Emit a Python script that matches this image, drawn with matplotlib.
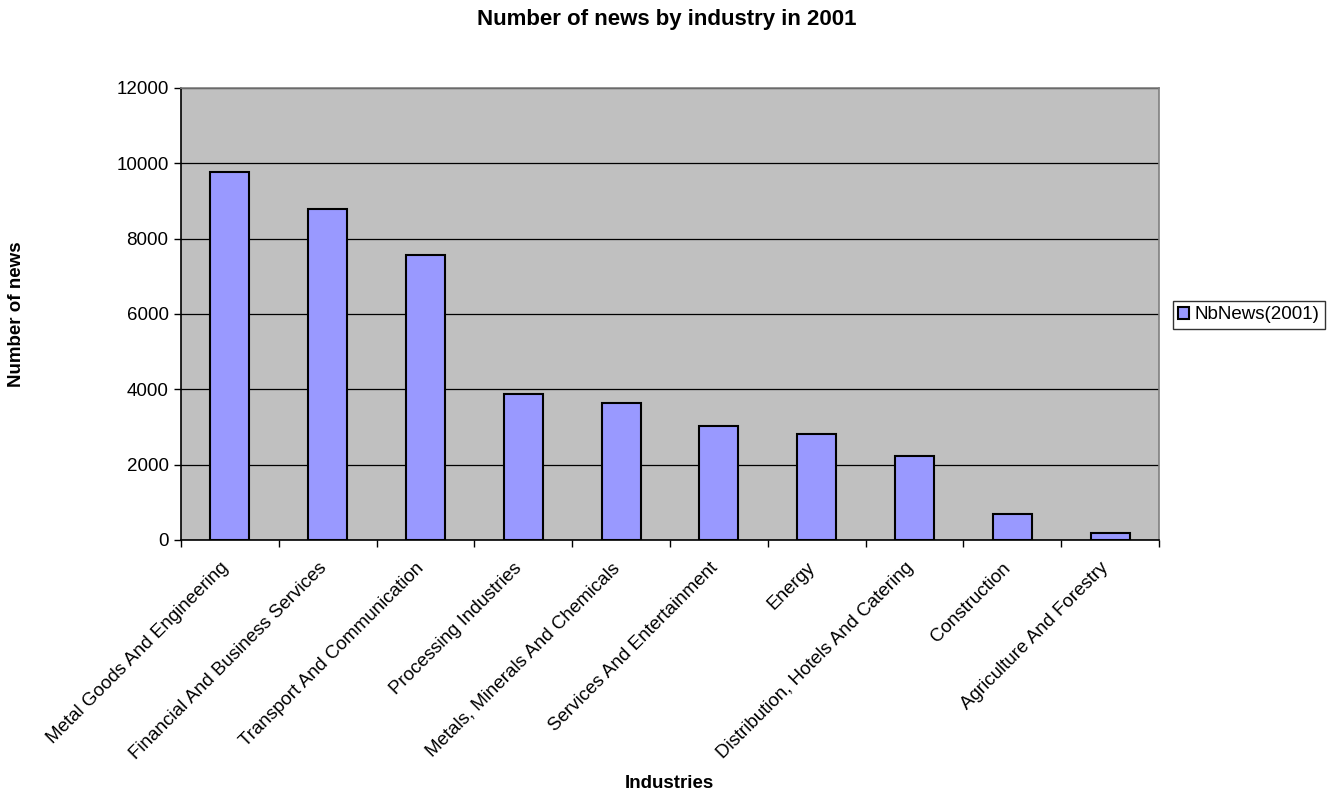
import matplotlib
matplotlib.use('Agg')
import matplotlib.pyplot as plt
from matplotlib.transforms import ScaledTranslation

plt.rcParams['font.family'] = ['Liberation Sans', 'DejaVu Sans']

industries = [
    'Metal Goods And Engineering',
    'Financial And Business Services',
    'Transport And Communication',
    'Processing Industries',
    'Metals, Minerals And Chemicals',
    'Services And Entertainment',
    'Energy',
    'Distribution, Hotels And Catering',
    'Construction',
    'Agriculture And Forestry',
]
nb_news = [9775, 8800, 7570, 3878, 3647, 3028, 2824, 2240, 683, 180]
y_ticks = [0, 2000, 4000, 6000, 8000, 10000, 12000]

fig = plt.figure(figsize=(13.34, 7.99), dpi=100)
ax = fig.add_axes([0.1357, 0.3242, 0.7331, 0.5657])
ax.set_facecolor('#C0C0C0')

x = list(range(len(industries)))
ax.bar(x, nb_news, width=0.4, color='#9999FF', edgecolor='black', linewidth=1.5,
       label='NbNews(2001)', zorder=3)

ax.set_xlim(-0.5, len(industries) - 0.5)
ax.set_ylim(0, 12000)
ax.set_yticks(y_ticks)
ax.set_yticklabels([str(v) for v in y_ticks], fontsize=13.5)
ax.yaxis.grid(True, color='black', linewidth=0.9, zorder=1)

# category labels between boundary ticks
ax.set_xticks(x)
ax.set_xticklabels(industries, rotation=45, ha='right', rotation_mode='anchor', fontsize=13.5)
ax.tick_params(axis='x', length=0, pad=14)
shift = ScaledTranslation(-10 / 100, 0, fig.dpi_scale_trans)
for lbl in ax.get_xticklabels():
    lbl.set_transform(lbl.get_transform() + shift)
ax.set_xticks([i - 0.5 for i in range(len(industries) + 1)], minor=True)
ax.tick_params(axis='x', which='minor', length=5, width=1, direction='out')
ax.tick_params(axis='y', length=5, width=1, direction='out', pad=4)

for side in ['left', 'bottom']:
    ax.spines[side].set_color('black')
    ax.spines[side].set_linewidth(1.2)
for side in ['top', 'right']:
    ax.spines[side].set_color('#808080')
    ax.spines[side].set_linewidth(1.2)

fig.text(0.5, 0.975, 'Number of news by industry in 2001', ha='center', va='center',
         fontsize=16, fontweight='bold')
fig.text(0.012, 0.607, 'Number of news', rotation=90, ha='center', va='center',
         fontsize=13.5, fontweight='bold')
fig.text(0.502, 0.02, 'Industries', ha='center', va='center', fontsize=13.5, fontweight='bold')

leg = fig.legend(loc='center left', bbox_to_anchor=(0.879, 0.606), fontsize=13.5,
                 frameon=True, fancybox=False, handlelength=0.6, handleheight=0.6,
                 handletextpad=0.25, borderpad=0.3, borderaxespad=0)
leg.get_frame().set_edgecolor('black')
leg.get_frame().set_linewidth(1)

fig.savefig('out.png', dpi=100)
